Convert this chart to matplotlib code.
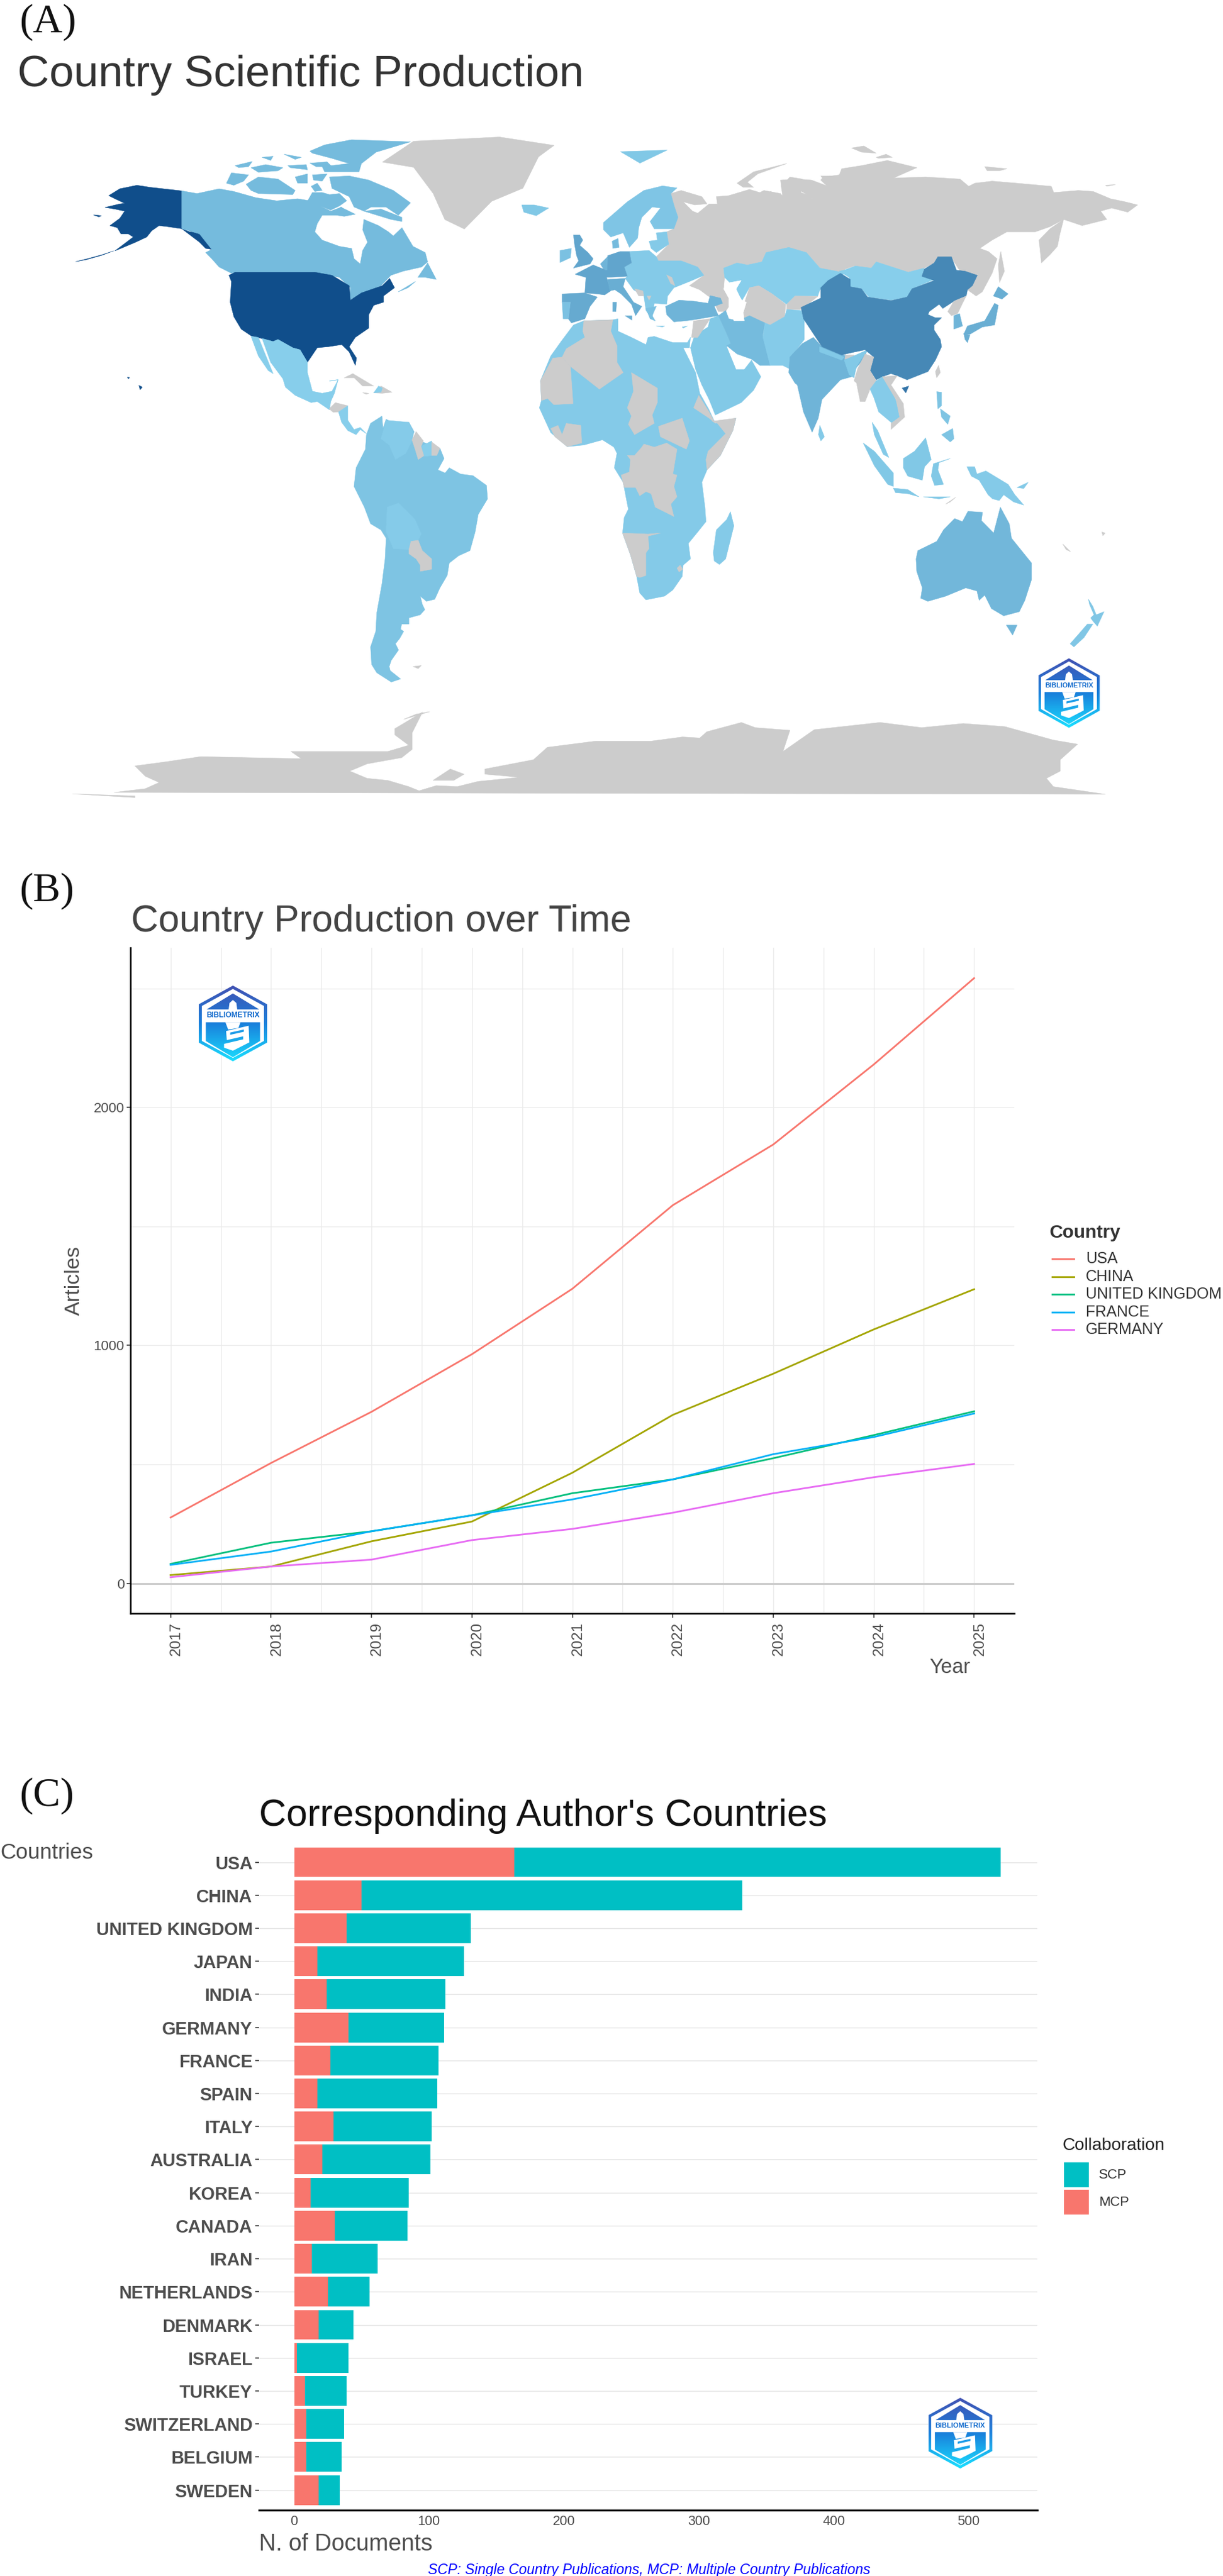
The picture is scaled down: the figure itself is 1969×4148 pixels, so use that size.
import numpy as np
import matplotlib
matplotlib.use("Agg")
import matplotlib.pyplot as plt
from matplotlib.colors import LinearSegmentedColormap
from matplotlib.patches import Polygon, PathPatch, Rectangle
from matplotlib.path import Path
from matplotlib.transforms import ScaledTranslation

plt.rcParams['font.family'] = ['Liberation Sans', 'DejaVu Sans']

# ---------- panel B data ----------
YEARS = [2017, 2018, 2019, 2020, 2021, 2022, 2023, 2024, 2025]
USA = [277, 506, 721, 963, 1238, 1589, 1844, 2180, 2543]
CHINA = [35, 71, 177, 260, 465, 708, 881, 1067, 1236]
UK = [82, 171, 219, 286, 379, 437, 526, 623, 723]
FRANCE = [78, 134, 219, 286, 353, 437, 543, 615, 714]
GERMANY = [26, 71, 100, 182, 229, 297, 379, 446, 502]
LINE_NAMES = ['USA', 'CHINA', 'UNITED KINGDOM', 'FRANCE', 'GERMANY']
LINE_COLORS = ['#F8766D', '#A3A500', '#00BF7D', '#00B0F6', '#E76BF3']

# ---------- panel C data ----------
COUNTRIES = ['USA', 'CHINA', 'UNITED KINGDOM', 'JAPAN', 'INDIA', 'GERMANY', 'FRANCE', 'SPAIN',
             'ITALY', 'AUSTRALIA', 'KOREA', 'CANADA', 'IRAN', 'NETHERLANDS', 'DENMARK',
             'ISRAEL', 'TURKEY', 'SWITZERLAND', 'BELGIUM', 'SWEDEN']
TOTAL_DOCS = [524, 332, 131, 126, 112, 111, 107, 106, 102, 101, 85, 84, 62, 56, 44, 40, 39, 37, 35, 34]
MCP_DOCS = [163, 50, 39, 17, 24, 40, 27, 17, 29, 21, 12, 30, 13, 25, 18, 2, 8, 9, 9, 18]

# ---------- panel A data: colour level (0-1, None = no publications) and outline ----------
CROPS = {'z1': (0, 0, 1.2565, .842), 'z4': (100, 200, .395, .3333), 'z5': (380, 640, .3333, .3333),
         'z6': (840, 260, .3333, .3333), 'z7': (840, 720, .3333, .3333), 'z8': (1240, 210, .397, .3333),
         'z9': (1300, 680, .359, .3333), 'z10': (100, 1050, 1.116, .3333)}

CAN = .15
JP = .25
MAP_SHAPES = [
 # Americas
 ('z1', None, [(490,310),(530,270),(640,262),(710,278),(690,300),(670,360),(630,385),(595,438),(570,420),(555,370),(530,320)]),
 ('z4', 1.0, [(190,345),(235,312),(305,295),(360,305),(488,322),(488,505),(520,520),(560,520),(610,590),(612,605),(585,600),(560,570),(510,525),(488,505),(430,495),(395,490),(365,515),(345,545),(300,570),(250,595),(215,612),(240,590),(290,545),(270,530),(240,530),(225,500),(195,490),(235,455),(255,420),(215,410),(175,402),(235,385),(255,382),(215,360)]),
 ('z4', 1.0, [(210,612),(160,634),(100,654),(55,664),(100,651),(165,630)]),
 ('z4', 1.0, [(128,438),(160,442),(150,448)]),
 ('z4', 1.0, [(313,1262),(327,1270),(318,1283)]),
 ('z4', 1.0, [(266,1222),(275,1224),(270,1230)]),
 ('z4', CAN, [(488,322),(550,335),(640,312),(700,325),(790,355),(875,370),(960,360),(1020,372),(1060,400),(1095,420),(1140,400),(1120,440),(1060,440),(1040,480),(1030,520),(1060,560),(1130,590),(1180,600),(1190,650),(1215,675),(1225,610),(1245,570),(1225,510),(1230,460),(1290,490),(1330,520),(1350,540),(1385,500),(1430,590),(1480,620),(1490,665),(1465,690),(1390,710),(1340,730),(1300,780),(1230,815),(1170,850),(1175,790),(1130,740),(1030,715),(705,715),(690,720),(640,690),(610,650),(585,620),(610,605),(560,530),(488,505)]),
 ('z4', CAN, [(1000,372),(1020,330),(1060,330),(1090,340),(1130,335),(1160,370),(1130,395),(1095,415),(1050,395)]),
 ('z4', CAN, [(1450,740),(1490,670),(1525,750),(1480,740)]),
 ('z4', CAN, [(1370,810),(1440,760),(1410,790)]),
 ('z4', CAN, [(670,285),(690,235),(760,245),(740,275),(700,295)]),
 ('z4', CAN, [(750,290),(800,255),(880,265),(950,320),(940,340),(800,335),(770,320)]),
 ('z4', CAN, [(1090,255),(1170,250),(1250,270),(1350,320),(1420,380),(1395,410),(1370,440),(1320,400),(1260,400),(1230,420),(1190,400),(1170,350),(1100,310)]),
 ('z4', CAN, [(1230,420),(1300,410),(1385,450),(1385,470),(1340,460)]),
 ('z4', CAN, [(1120,440),(1135,400),(1195,435),(1150,445)]),
 ('z4', CAN, [(1015,300),(1040,285),(1060,320),(1030,325)]),
 ('z4', CAN, [(950,255),(1000,240),(1000,285),(960,285)]),
 ('z4', CAN, [(1020,245),(1080,240),(1060,275),(1025,270)]),
 ('z4', CAN, [(1010,130),(1070,100),(1180,75),(1420,85),(1280,135),(1220,190),(1210,230),(1070,230),(1060,205),(1170,190),(1100,165),(1020,140)]),
 ('z4', CAN, [(1010,188),(1080,182),(1100,205),(1035,205)]),
 ('z4', CAN, [(705,200),(775,180),(760,205),(720,210)]),
 ('z4', CAN, [(770,210),(830,195),(900,210),(880,225),(800,232)]),
 ('z4', CAN, [(920,200),(995,195),(1000,220),(930,210)]),
 ('z4', CAN, [(905,145),(975,160),(950,170)]),
 ('z4', CAN, [(815,160),(860,155),(850,175)]),
 ('z4', 1.0, [(705,715),(1030,715),(1100,730),(1170,780),(1175,850),(1220,815),(1305,780),(1335,745),(1355,790),(1310,830),(1310,860),(1270,875),(1250,920),(1250,985),(1195,1030),(1170,1075),(1200,1130),(1195,1165),(1170,1100),(1140,1065),(1085,1075),(1040,1080),(1000,1150),(970,1090),(940,1080),(880,1040),(860,1050),(770,1022),(730,990),(700,930),(685,860),(690,760),(680,730)]),
 ('z4', 0.0, [(815,1035),(860,1050),(880,1040),(940,1080),(970,1090),(1000,1150),(1000,1200),(1020,1290),(1060,1300),(1100,1290),(1125,1235),(1090,1240),(1125,1235),(1110,1300),(1095,1340),(1090,1380),(1040,1340),(1015,1345),(950,1310),(910,1270),(900,1230),(850,1150)]),
 ('z4', 0.0, [(770,1025),(800,1030),(860,1205),(840,1190),(800,1120)]),
 ('z4', None, [(1150,1225),(1185,1205),(1270,1265),(1225,1265),(1190,1225)]),
 ('z4', None, [(1270,1298),(1300,1265),(1345,1295),(1305,1300)]),
 ('z4', 0.0, [(1270,1298),(1290,1265),(1305,1275),(1300,1295)]),
 ('z4', None, [(1225,1297),(1250,1300),(1240,1305)]),
 ('z5', None, [(450,55),(480,25),(540,40),(495,70),(470,72)]),
 ('z5', 0.0, [(495,70),(540,40),(540,110),(570,155),(600,145),(630,175),(600,155),(580,180),(540,160),(510,120)]),
 ('z5', .08, [(630,180),(650,125),(705,90),(710,150),(725,105),(760,125),(835,120),(860,165),(850,205),(880,240),(900,215),(985,245),(1005,295),(975,350),(1010,365),(1030,340),(1085,370),(1145,378),(1210,425),(1215,490),(1170,565),(1155,650),(1130,740),(1075,765),(1030,800),(1020,860),(985,920),(960,975),(920,985),(890,960),(900,1000),(912,1025),(890,1050),(835,1065),(835,1095),(800,1095),(795,1120),(810,1130),(790,1165),(770,1190),(785,1220),(750,1270),(740,1300),(745,1320),(795,1360),(750,1375),(680,1330),(655,1290),(650,1205),(675,1130),(680,1040),(705,900),(720,780),(725,680),(700,640),(650,610),(620,530),(590,470),(570,430),(580,340),(625,250)]),
 ('z5', .02, [(730,530),(785,510),(865,590),(895,660),(880,690),(845,695),(835,735),(760,730),(725,650)]),
 ('z5', .02, [(725,110),(835,120),(855,165),(850,210),(820,270),(770,300),(740,230),(700,200)]),
 ('z5', None, [(850,205),(870,165),(905,210),(895,235),(910,280),(880,300),(865,250)]),
 ('z5', 0.0, [(895,235),(945,210),(950,280),(910,285)]),
 ('z5', None, [(945,215),(985,245),(970,280),(945,280)]),
 ('z5', None, [(835,735),(845,695),(880,690),(900,740),(945,780),(945,830),(890,840),(890,810),(870,780),(835,755)]),
 ('z5', None, [(855,1300),(895,1295),(880,1310)]),
 ('z5', None, [(810,1555),(870,1530),(935,1518),(880,1535)]),
 # Africa
 ('z6', .03, [(250,790),(300,770),(440,765),(465,760),(465,820),(530,850),(600,885),(610,850),(640,845),(730,875),(800,875),(815,850),(810,900),(780,900),(840,1020),(860,1120),(905,1200),(935,1265),(1035,1240),(1020,1300),(960,1420),(895,1490),(870,1550),(885,1670),(890,1740),(850,1790),(805,1845),(815,1920),(780,1950),(775,2005),(730,2070),(690,2100),(600,2118),(570,2085),(555,2005),(525,1900),(487,1795),(495,1720),(515,1680),(505,1630),(490,1550),(447,1480),(460,1410),(445,1380),(390,1345),(300,1370),(220,1378),(140,1310),(85,1190),(95,1155),(90,1060),(140,940),(190,870)]),
 ('z6', None, [(300,770),(440,765),(430,820),(460,890),(460,970),(490,1020),(375,1100),(235,990),(195,945),(215,905),(305,850),(295,820)]),
 ('z6', None, [(195,945),(235,990),(248,1170),(155,1175),(125,1145),(95,1155),(90,1060),(150,950)]),
 ('z6', None, [(530,1020),(655,1095),(655,1165),(630,1225),(640,1265),(545,1320),(515,1270),(530,1230),(510,1190),(540,1110)]),
 ('z6', None, [(660,1280),(775,1240),(810,1350),(795,1390),(670,1330)]),
 ('z6', None, [(140,1290),(175,1275),(195,1320),(215,1265),(285,1275),(290,1360),(220,1378),(160,1330)]),
 ('z6', None, [(920,1255),(1035,1240),(1020,1300),(960,1420),(895,1490),(890,1440),(900,1400),(985,1315),(945,1265)]),
 ('z6', None, [(830,1190),(855,1130),(905,1210),(935,1265),(905,1240)]),
 ('z7', None, [(510,40),(545,40),(580,0),(590,-15),(640,0),(700,-20),(750,10),(730,130),(750,135),(735,190),(750,240),(720,275),(735,335),(645,290),(625,225),(600,215),(570,235),(550,195),(495,195),(480,135),(520,120),(525,60)]),
 ('z7', None, [(487,415),(610,420),(670,415),(610,430),(615,490),(600,510),(600,620),(570,630),(555,625),(525,520)]),
 ('z7', None, [(750,585),(765,570),(778,590),(760,603)]),
 ('z7', .03, [(1008,312),(1025,380),(985,540),(955,567),(930,550),(925,510),(940,400),(990,350)]),
 # Russia and East Asia
 ('z6', None, [(720,155),(770,140),(870,170),(895,205),(835,210),(780,195),(825,240),(850,250),(905,205),(945,205),(940,170),(1000,165),(1100,135),(1150,150),(1170,140),(1250,155),(1285,200),(1330,205),(1355,175),(1415,185),(1345,140),(1255,130),(1250,90),(1335,85),(1400,90),(1480,120),(1445,70),(1560,70),(1560,540),(1520,530),(1440,515),(1375,440),(1290,415),(1180,440),(1160,485),(1090,500),(1040,490),(975,515),(980,560),(975,615),(1000,660),(1000,705),(960,680),(900,650),(860,620),(810,600),(880,550),(850,510),(770,480),(660,480),(650,460),(710,400),(700,340),(735,325),(755,270),(735,210)]),
 ('z6', None, [(1040,105),(1120,50),(1280,10),(1140,60),(1090,100),(1120,125),(1070,125)]),
 ('z8', None, [(0,295),(50,315),(45,270),(80,225),(130,235),(125,300),(170,320),(170,330),(240,280),(205,240),(215,225),(280,215),(290,185),(370,170),(475,145),(595,180),(500,230),(630,225),(770,235),(805,270),(830,255),(900,245),(1000,255),(1140,270),(1150,300),(1250,290),(1310,295),(1380,330),(1440,345),(1490,360),(1450,395),(1385,375),(1340,390),(1365,430),(1265,460),(1190,430),(1135,475),(1090,530),(1100,640),(1135,600),(1165,560),(1175,500),(1190,430),(1135,465),(1075,490),(960,490),(900,530),(850,570),(885,585),(920,620),(900,690),(860,780),(835,800),(800,770),(840,700),(770,680),(735,615),(680,610),(665,640),(625,665),(560,685),(495,660),(430,635),(410,665),(340,655),(280,680),(205,650),(150,590),(90,570),(0,590)]),
 ('z8', None, [(935,585),(950,680),(930,735),(925,650)]),
 ('z8', None, [(330,85),(380,75),(430,110),(370,105)]),
 ('z8', None, [(430,130),(470,115),(495,130),(440,135)]),
 ('z8', None, [(870,175),(960,185),(930,195),(880,195)]),
 ('z8', None, [(1360,265),(1400,262),(1365,270)]),
 ('z8', 0.0, [(300,675),(345,655),(410,665),(430,635),(495,660),(560,685),(625,665),(615,705),(665,720),(575,765),(555,805),(490,820),(400,805),(370,765),(325,755),(320,710),(280,680)]),
 # Central Asia and Middle East
 ('z6', 0.0, [(975,515),(1040,490),(1090,500),(1160,485),(1180,440),(1290,415),(1375,440),(1440,515),(1520,530),(1560,540),(1440,620),(1430,650),(1320,650),(1280,690),(1210,640),(1145,600),(1100,610),(1065,670),(1035,620),(1060,575),(1005,585),(980,560)]),
 ('z6', None, [(1070,700),(1100,610),(1145,600),(1210,640),(1275,690),(1270,750),(1200,790),(1175,780),(1100,745),(1050,770)]),
 ('z6', None, [(1280,690),(1320,650),(1430,652),(1350,715),(1280,715)]),
 ('z6', None, [(930,685),(965,680),(1000,700),(985,725),(950,725)]),
 ('z6', .04, [(815,900),(835,840),(900,800),(910,760),(950,745),(985,820),(1010,880),(990,895),(1035,1005),(1075,1005),(1110,960),(1155,1040),(1120,1105),(1060,1165),(935,1225),(905,1150),(870,1080),(840,1005)]),
 ('z6', None, [(830,770),(910,760),(850,850),(820,850)]),
 ('z6', .15, [(950,745),(985,720),(1000,760),(1045,770),(1100,745),(1175,780),(1165,840),(1200,985),(1150,985),(1110,955),(1040,930),(990,890),(1010,880),(985,820)]),
 ('z6', .2, [(695,700),(760,670),(830,675),(900,685),(910,648),(960,660),(970,685),(930,700),(950,745),(890,755),(830,765),(790,770),(735,775),(700,740)]),
 ('z6', .02, [(1175,780),(1200,790),(1270,750),(1280,715),(1350,720),(1365,760),(1365,860),(1300,945),(1310,1010),(1260,985),(1200,985),(1165,850)]),
 ('z8', .2, [(80,1095),(130,1030),(175,1000),(210,1045),(295,1085),(340,1095),(395,1060),(375,1110),(350,1145),(330,1190),(285,1205),(210,1300),(195,1390),(170,1458),(135,1360),(110,1230),(100,1220),(75,1170)]),
 ('z8', .04, [(200,1045),(300,1095),(290,1110),(200,1070)]),
 ('z8', None, [(305,1085),(340,1085),(340,1108),(302,1105)]),
 ('z8', .04, [(300,1110),(395,1060),(350,1140),(340,1195),(320,1180)]),
 ('z8', .55, [(125,855),(205,810),(205,760),(235,725),(285,690),(325,720),(325,755),(370,765),(395,805),(490,822),(555,805),(575,765),(665,725),(615,705),(625,670),(665,640),(680,610),(735,610),(755,675),(790,680),(840,700),(820,750),(800,770),(795,800),(745,825),(700,860),(685,840),(645,875),(640,890),(670,905),(695,905),(665,940),(665,965),(690,1010),(695,1045),(670,1110),(640,1165),(555,1205),(515,1185),(490,1175),(455,1190),(430,1205),(405,1160),(420,1095),(385,1060),(325,1075),(290,1085),(210,1045),(185,1000),(135,910)]),
 ('z8', .7, [(535,1245),(562,1235),(550,1268)]),
 ('z8', None, [(683,1135),(690,1170),(675,1195),(670,1165)]),
 ('z8', None, [(720,875),(745,825),(795,800),(780,835),(760,885),(735,895)]),
 ('z8', .2, [(745,895),(768,885),(780,945),(745,960)]),
 ('z8', JP, [(925,755),(965,790),(940,815),(905,800)]),
 ('z8', JP, [(910,835),(925,845),(910,940),(860,950),(810,985),(785,985),(800,945),(870,920)]),
 ('z8', JP, [(785,980),(810,990),(800,1025),(790,1010)]),
 ('z8', None, [(385,1080),(420,1095),(405,1160),(430,1210),(405,1250),(385,1310),(365,1310),(350,1220),(340,1210),(355,1150)]),
 ('z8', .02, [(405,1250),(430,1210),(455,1190),(490,1240),(515,1320),(525,1385),(495,1415),(440,1360),(420,1290)]),
 ('z8', None, [(455,1190),(515,1185),(490,1230),(540,1320),(545,1385),(490,1445),(490,1415),(525,1385),(510,1300)]),
 ('z8', .08, [(675,1262),(695,1265),(695,1330),(680,1345)]),
 ('z8', .08, [(690,1345),(730,1380),(720,1420),(695,1385)]),
 ('z8', .08, [(695,1470),(740,1440),(745,1490),(730,1505)]),
 # Oceania and maritime Asia
 ('z9', .05, [(250,100),(300,140),(385,245),(385,310),(360,300),(300,210)]),
 ('z9', .03, [(290,0),(315,40),(365,170),(340,155),(300,60)]),
 ('z9', .05, [(430,175),(480,140),(530,75),(555,180),(525,215),(515,280),(450,260),(430,220)]),
 ('z9', .05, [(565,200),(640,175),(590,195),(585,230),(610,300),(570,305),(555,260)]),
 ('z9', .05, [(385,318),(450,325),(500,360),(450,345),(395,340)]),
 ('z9', .05, [(520,360),(640,360),(590,370)]),
 ('z9', None, [(620,395),(665,362),(640,385)]),
 ('z9', .03, [(715,215),(750,215),(760,250),(800,235),(900,300),(930,350),(970,400),(925,385),(880,350),(860,378),(830,370),(810,350),(770,280),(735,260)]),
 ('z9', .03, [(940,315),(990,290),(970,320)]),
 ('z9', .18, [(487,660),(495,620),(580,575),(610,520),(660,465),(695,480),(720,430),(785,435),(780,475),(835,535),(865,410),(905,490),(915,560),(960,620),(1005,680),(1005,760),(975,860),(950,915),(880,935),(825,900),(795,835),(770,860),(760,815),(710,800),(620,840),(540,865),(508,850),(515,800),(490,720)]),
 ('z9', .18, [(892,980),(940,980),(920,1028)]),
 ('z9', .06, [(1260,855),(1280,890),(1295,930),(1330,915),(1300,985),(1280,960),(1270,945),(1285,930),(1265,880)]),
 ('z9', .06, [(1280,975),(1240,1040),(1195,1085),(1178,1070),(1215,1025),(1255,975)]),
 ('z9', None, [(1145,588),(1180,625),(1160,615)]),
 ('z9', None, [(1320,530),(1335,535),(1325,548)]),
 # Europe
 ('z6', .05, [(0,210),(60,210),(130,225),(70,262),(10,245)]),
 ('z6', .32, [(250,355),(280,355),(295,380),(280,405),(320,440),(345,470),(330,495),(250,515),(275,480),(265,455),(255,400)]),
 ('z6', .1, [(185,430),(240,420),(235,465),(185,488)]),
 ('z6', .07, [(395,295),(510,195),(590,140),(680,118),(750,128),(720,155),(735,210),(755,270),(735,325),(640,325),(620,290),(670,225),(630,220),(580,270),(565,320),(560,370),(520,415),(490,345),(430,365),(395,330)]),
 ('z6', .03, [(615,385),(655,380),(650,345),(700,340),(710,400),(650,440),(625,420)]),
 ('z6', .15, [(437,385),(465,372),(470,415),(440,420)]),
 ('z6', .03, [(520,435),(615,430),(650,460),(660,480),(770,480),(850,510),(880,550),(810,580),(735,610),(705,650),(700,690),(640,685),(630,760),(600,720),(590,650),(540,620),(500,565),(510,555),(495,510),(530,490)]),
 ('z6', None, [(700,548),(725,560),(740,600),(720,590)]),
 ('z6', None, [(545,615),(585,625),(590,650),(565,650)]),
 ('z6', None, [(605,650),(625,650),(615,670)]),
 ('z6', .1, [(600,710),(650,700),(630,745),(645,770),(620,760)]),
 ('z6', .32, [(415,455),(475,435),(520,435),(530,490),(495,510),(510,555),(410,560),(410,515)]),
 ('z6', .2, [(380,495),(415,460),(412,525),(395,520)]),
 ('z6', .32, [(258,545),(345,500),(420,530),(410,560),(430,625),(400,645),(365,640),(305,635),(310,560)]),
 ('z6', .28, [(195,640),(305,635),(365,655),(330,700),(305,760),(240,780),(225,760),(235,680),(195,680)]),
 ('z6', .1, [(195,680),(235,680),(225,760),(200,760)]),
 ('z6', .25, [(415,570),(500,565),(490,605),(540,680),(580,700),(550,745),(530,690),(480,640),(450,620),(425,625)]),
 ('z6', .25, [(497,745),(530,745),(530,765)]),
 ('z6', .25, [(440,680),(458,680),(455,725),(440,725)]),
 ('z6', .03, [(650,795),(690,795),(680,800)]),
 ('z6', .03, [(775,800),(800,795),(780,805)]),
 ('z6', .03, [(1440,1275),(1462,1330),(1445,1350),(1433,1320)]),
 ('z1', .05, [(795,290),(855,287),(820,312)]),
 # Antarctica
 ('z10', None, [(75,678),(120,660),(140,630),(120,600),(105,550),(150,530),(200,505),(270,510),(345,515),(330,480),(400,480),(470,480),(500,450),(480,400),(480,370),(520,290),(505,390),(505,470),(490,510),(440,540),(415,575),(440,610),(470,620),(500,650),(515,670),(540,645),(570,650),(600,625),(660,605),(610,590),(610,565),(680,520),(700,460),(770,430),(850,430),(895,410),(920,415),(930,385),(980,340),(1000,365),(1050,378),(1040,480),(1085,375),(1180,340),(1240,365),(1300,345),(1360,360),(1430,425),(1465,445),(1440,520),(1440,575),(1420,610),(1430,650),(1505,687)]),
 ('z10', None, [(535,620),(560,565),(580,590),(565,620)]),
 ('z10', None, [(15,685),(105,695),(105,703)]),
]
# inland sea cut out of the land layers
CASPIAN = [(975,615),(1005,585),(1060,575),(1035,615),(1060,670),(1085,680),(1070,730),(1075,770),(1025,770),(1000,705),(1000,660)]

fig = plt.figure(figsize=(19.69, 41.48), dpi=100, facecolor='white')
W, H = 1969, 4148


def axes_px(left, top, right, bottom, **kw):
    return fig.add_axes([left / W, 1 - bottom / H, (right - left) / W, (bottom - top) / H], **kw)


# ---------- Panel B ----------
axb = axes_px(210, 1526, 1633, 2598)
axb.set_xlim(2016.6, 2025.4)
axb.set_ylim(-126, 2671)
axb.set_xticks(YEARS)
axb.set_xticks([y + .5 for y in YEARS[:-1]], minor=True)
axb.set_yticks([0, 1000, 2000])
axb.set_yticks([500, 1500, 2500], minor=True)
axb.grid(which='both', color='#EBEBEB', lw=1.0)
axb.set_axisbelow(True)
axb.axhline(0, color='#CCCCCC', lw=2.2, zorder=1)
for series, color in zip([USA, CHINA, UK, FRANCE, GERMANY], LINE_COLORS):
    axb.plot(YEARS, series, color=color, lw=2.0, solid_joinstyle='round', zorder=3)
for s in ('top', 'right'):
    axb.spines[s].set_visible(False)
for s in ('left', 'bottom'):
    axb.spines[s].set_linewidth(1.8)
axb.tick_params(which='minor', length=0)
axb.tick_params(axis='y', which='major', length=4, width=1.2, labelsize=16, labelcolor='#4D4D4D', pad=3, color='#333333')
axb.tick_params(axis='x', which='major', length=5, width=1.2, labelsize=17.5, labelcolor='#4D4D4D', labelrotation=90, pad=5, color='#333333')
for lab in axb.get_xticklabels():
    lab.set_transform(lab.get_transform() + ScaledTranslation(9 / 100, 0, fig.dpi_scale_trans))

# ---------- Panel C ----------
axc = axes_px(417, 2966.6, 1670, 4041.5)
axc.set_xlim(-26.1, 551)
pos = np.arange(len(COUNTRIES))
axc.set_ylim(len(COUNTRIES) - 1 + .6, -.6)
axc.grid(axis='y', color='#E4E4E4', lw=1.0)
axc.set_axisbelow(True)
axc.barh(pos, TOTAL_DOCS, height=.9, color='#00BFC4', lw=0, zorder=2)
axc.barh(pos, MCP_DOCS, height=.9, color='#F8766D', lw=0, zorder=3)
axc.set_yticks(pos)
axc.set_yticklabels(COUNTRIES, fontsize=20.6, fontweight='bold', color='#4D4D4D')
axc.set_xticks([0, 100, 200, 300, 400, 500])
axc.tick_params(axis='x', length=0, labelsize=15.5, labelcolor='#4D4D4D', pad=6)
axc.tick_params(axis='y', length=4.5, width=1.2, pad=3, color='#333333')
for s in ('top', 'right', 'left'):
    axc.spines[s].set_visible(False)
axc.spines['bottom'].set_linewidth(2.2)

# ---------- Overlay in pixel coordinates: map, texts, legends, logos ----------
ov = fig.add_axes([0, 0, 1, 1], zorder=10)
ov.patch.set_alpha(0)
ov.axis('off')
ov.set_xlim(0, W)
ov.set_ylim(H, 0)

cmap = LinearSegmentedColormap.from_list('prod', ['#87CEEB', '#104E8B'])
GREY = '#CCCCCC'


def to_px(crop, pts):
    x0, y0, sx, sy = CROPS[crop]
    return [(x0 + x * sx, y0 + y * sy) for x, y in pts]


for crop, level, pts in MAP_SHAPES:
    col = GREY if level is None else cmap(level)
    ov.add_patch(Polygon(to_px(crop, pts), closed=True, fc=col, ec=col, lw=.4, joinstyle='round'))
ov.add_patch(Polygon(to_px('z6', CASPIAN), closed=True, fc='white', ec='white', lw=.4))


def hex_pts(cx, cy, w, h, k=1.0):
    rel = [(0, -.5), (.5, -.253), (.5, .253), (0, .5), (-.5, .253), (-.5, -.253)]
    return [(cx + x * w * k, cy + y * h * k) for x, y in rel]


def logo(cx, cy, w, h):
    ov.add_patch(Polygon(hex_pts(cx, cy, w, h), closed=True, fc='white', ec='none'))
    P = lambda x, y: (cx + x * w, cy + y * h)
    paths = [Path(hex_pts(cx, cy, w, h) + [hex_pts(cx, cy, w, h)[0]], closed=True),
             Path((hex_pts(cx, cy, w, h, .91) + [hex_pts(cx, cy, w, h, .91)[0]])[::-1], closed=True),
             Path([P(0, -.396), P(.385, -.185), P(-.385, -.185), P(0, -.396)], closed=True),
             Path([P(-.397, -.015), P(.397, -.015), P(.397, .232), P(0, .446), P(-.397, .232), P(-.397, -.015)], closed=True)]
    clip = Path.make_compound_path(*paths)
    stops = np.array([[.255, .32, .70], [.10, .50, .86], [.10, .87, 1.0]])
    t = np.linspace(0, 1, 64)
    grad = np.stack([np.interp(t, [0, .5, 1], stops[:, i]) for i in range(3)], axis=1)[:, None, :]
    im = ov.imshow(grad, extent=(cx - w / 2, cx + w / 2, cy + h / 2, cy - h / 2), origin='upper',
                   aspect='auto', zorder=5, interpolation='bilinear')
    im.set_clip_path(PathPatch(clip, transform=ov.transData))
    for poly in ([(-.05, -.27), (0, -.31), (.05, -.27), (.07, -.14), (-.07, -.14)],
                 [(-.11, -.015), (.11, -.015), (.08, .06), (-.07, .08)],
                 [(-.10, .10), (.23, .03), (.24, .25), (.0, .36), (-.13, .32), (-.13, .27), (.15, .21), (.15, .17), (-.09, .22)]):
        ov.add_patch(Polygon([P(*q) for q in poly], closed=True, fc='white', ec='none', zorder=6))
    for yy in (.12,):
        ov.add_patch(Polygon([P(-.04, yy), P(.16, yy - .04), P(.16, yy - .01), P(-.04, yy + .03)], closed=True,
                             fc='#1C9BE8', ec='none', zorder=7))
    ov.text(cx, cy - .105 * h, 'BIBLIOMETRIX', ha='center', va='center', fontsize=w * .079, fontweight='bold',
            color='#0D68CC', zorder=8)


logo(1721, 1116, 99, 112)
logo(375, 1648, 110, 122)
logo(1546, 3918, 103, 114)
ov.set_xlim(0, W)
ov.set_ylim(H, 0)

serif = ['Liberation Serif', 'DejaVu Serif']
ov.text(31, 52, '(A)', family=serif, fontsize=47.5, color='#111111', va='baseline', clip_on=False)
ov.text(31, 1451, '(B)', family=serif, fontsize=47.5, color='#111111', va='baseline')
ov.text(31, 2908, '(C)', family=serif, fontsize=47.5, color='#111111', va='baseline')

ov.text(28, 139, 'Country Scientific Production', fontsize=51.1, color='#333333', va='baseline')
ov.text(211, 1500, 'Country Production over Time', fontsize=43.8, color='#444444', va='baseline')
ov.text(417, 2940, "Corresponding Author's Countries", fontsize=43.9, color='#111111', va='baseline')

ov.text(119, 2062, 'Articles', fontsize=24.6, color='#4D4D4D', rotation=90, ha='center', va='center')
ov.text(1529, 2686, 'Year', fontsize=23.5, color='#4D4D4D', ha='center', va='center')
ov.text(1690, 1993, 'Country', fontsize=21.5, fontweight='bold', color='#333333', va='baseline')
for i, (name, col) in enumerate(zip(LINE_NAMES, LINE_COLORS)):
    yy = 2027 + i * 28.6
    ov.plot([1694, 1729], [yy, yy], color=col, lw=2.0)
    ov.text(1748, yy, name, fontsize=18, color='#333333', va='center')

ov.text(0, 2993, 'Countries', fontsize=25.2, color='#4D4D4D', va='baseline')
ov.text(417, 4107, 'N. of Documents', fontsize=27, color='#4D4D4D', va='baseline')
ov.text(689, 4138, 'SCP: Single Country Publications, MCP: Multiple Country Publications',
        fontsize=16.45, style='italic', color='#0000FF', va='center')
ov.text(1711, 3455, 'Collaboration', fontsize=20.2, color='#222222', va='center')
for yy, col, name in ((3482, '#00BFC4', 'SCP'), (3526, '#F8766D', 'MCP')):
    ov.add_patch(Rectangle((1713, yy), 40, 40, fc=col, ec='none'))
    ov.text(1769, yy + 20, name, fontsize=15.8, color='#333333', va='center')

fig.savefig('out.png', dpi=100, facecolor='white')
